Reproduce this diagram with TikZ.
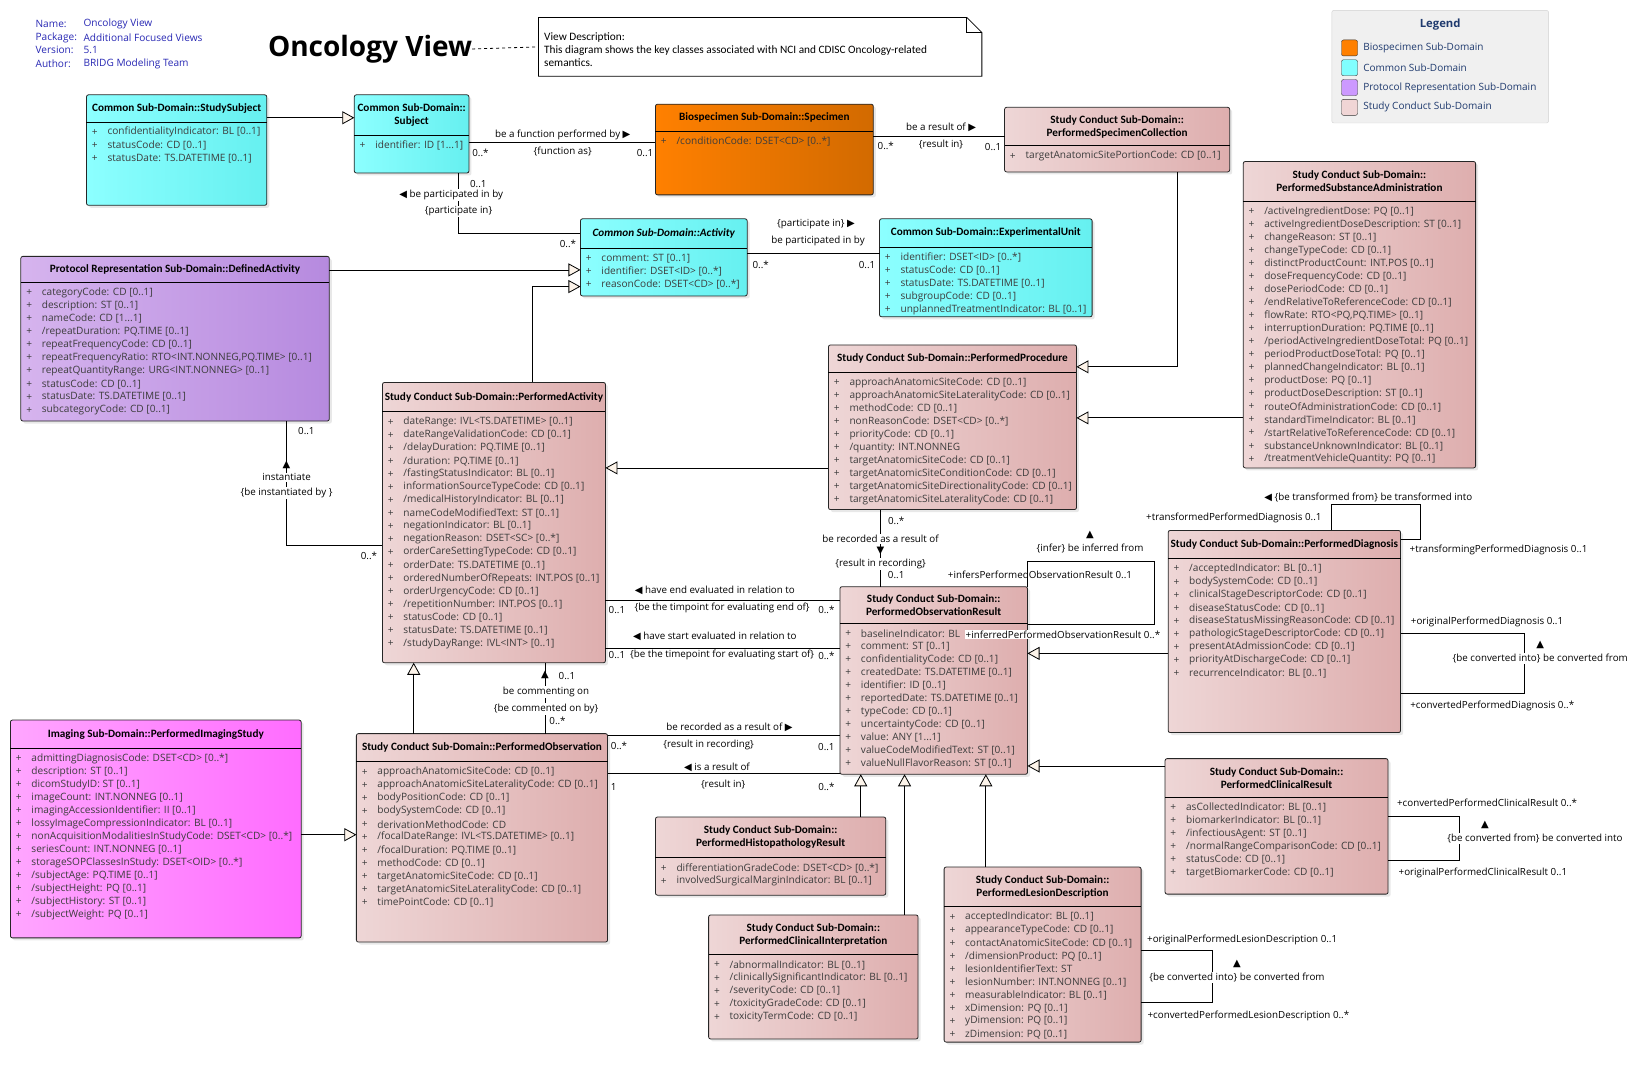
\documentclass[tikz,border=0pt]{standalone}
\usepackage{fontspec}
\setmainfont{Open Sans}
\newfontfamily\hdrfont{Carlito}
\newfontfamily\symfont{DejaVu Sans}
\usetikzlibrary{arrows.meta,shadows}

\definecolor{commonL}{HTML}{8CFFFF}
\definecolor{commonR}{HTML}{66F0F0}
\definecolor{studyL}{HTML}{EED6D6}
\definecolor{studyR}{HTML}{DEAEAE}
\definecolor{protoL}{HTML}{D6B4EE}
\definecolor{protoR}{HTML}{B68ADF}
\definecolor{bioL}{HTML}{FF8000}
\definecolor{bioR}{HTML}{D26A00}
\definecolor{imgL}{HTML}{FFA6FF}
\definecolor{imgR}{HTML}{FF6CFF}
\definecolor{genfill}{HTML}{FDF4EA}
\definecolor{infoblue}{HTML}{2828B4}
\definecolor{legendtxt}{HTML}{1F3A6E}
\definecolor{attrgray}{HTML}{3C3C3C}

\newcommand{\pxs}{1.0421}

\tikzset{
  cls/.style={draw=black!85, line width=0.8pt, rounded corners=2pt, inner sep=0pt, outer sep=0pt,
    drop shadow={opacity=0.18, shadow xshift=2.5pt, shadow yshift=-2.5pt}},
  common/.style={left color=commonL, right color=commonR},
  study/.style={left color=studyL, right color=studyR},
  proto/.style={left color=protoL, right color=protoR},
  bio/.style={left color=bioL, right color=bioR},
  imaging/.style={left color=imgL, right color=imgR},
  clstitle/.style={font=\hdrfont\bfseries\fontsize{11.2}{13}\selectfont, align=center, inner sep=0pt},
  attr/.style={font=\fontsize{10.1}{12}\selectfont, text=attrgray, anchor=west, inner sep=0pt},
  assoc/.style={line width=0.8pt},
  gen/.style={line width=0.8pt, -{Triangle[length=12pt,width=13pt,fill=genfill]}},
  lbl/.style={font=\fontsize{9.8}{12}\selectfont, inner sep=1pt},
  wlbl/.style={lbl, fill=white},
  info/.style={font=\fontsize{10.1}{12}\selectfont, text=infoblue, anchor=west, inner sep=0pt},
}

\newcommand{\tri}[1]{{\symfont\fontsize{10}{10}\selectfont #1}}
\newcommand{\thru}{...}

% class box: name, colour style, left, top, right, bottom, header bottom, title, attributes
\newcommand{\umlclass}[9]{%
  \node[cls,#2,minimum width={(#5-#3)*\pxs},minimum height={(#6-#4)*\pxs}] (#1) at ({(#3+#5)/2},{(#4+#6)/2}) {};
  \draw[line width=0.8pt] (#1.west |- 0,#7) -- (#1.east |- 0,#7);
  \node[clstitle] (#1-title) at ({(#3+#5)/2},{(#4+#7)/2}) {#8};
  \foreach \a [count=\i] in {#9} {
    \node[attr] (#1-p\i) at ({#3+5},{#7+10+12.5*(\i-1)}) {+};
    \node[attr] (#1-a\i) at ({#3+20},{#7+10+12.5*(\i-1)}) {\a};
  }%
}

\begin{document}
\begin{tikzpicture}[x=1.0421pt,y=-1.0421pt]
    \fill[white] (0,0) rectangle (1568,1028.7);
    \useasboundingbox (0,0) rectangle (1568,1028.7);

    % diagram info
    \foreach \k/\v/\y in {Name:/Oncology View/23, Package:/Additional Focused Views/36,
                          Version:/5.1/48, Author:/BRIDG Modeling Team/61}
    {
        \node[info] (info-k\y) at (34,\y) {\k};
        \node[info] (info-v\y) at (80,\y) {\v};
    }

    \node[font=\bfseries\fontsize{28}{32}\selectfont, anchor=west, inner sep=0pt] (title) at (257,47) {Oncology View};

    % note
    \node[minimum width={425*\pxs}, minimum height={56*\pxs}, inner sep=0pt] (note) at (729.5,45) {};
    \draw[line width=0.8pt, fill=white] (note.south west) -- (note.north west) -- ([xshift=-15pt]note.north east)
        -- ([yshift=-15pt]note.north east) -- (note.south east) -- cycle;
    \draw[line width=0.8pt] ([xshift=-15pt]note.north east) |- ([yshift=-15pt]note.north east);
    \node[anchor=north west, align=left, inner sep=0pt, font=\hdrfont\fontsize{11.3}{13}\selectfont] (note-txt) at (522,31)
        {View Description:\\This diagram shows the key classes associated with NCI and CDISC Oncology-related\\semantics.};
    \draw[dashed, line width=0.8pt] (title.east) -- (note.west |- 0,45);

    % legend
    \node[draw=black!18, fill=black!6, rounded corners=2pt, minimum width={208*\pxs}, minimum height={108*\pxs}, inner sep=0pt] (legend) at (1382,64) {};
    \node[font=\bfseries\fontsize{11.3}{13}\selectfont, text=legendtxt] (legend-title) at (1382,24) {Legend};
    \foreach \c/\t/\y in {FF8000/Biospecimen Sub-Domain/46, 80FFFF/Common Sub-Domain/65,
                          CC99FF/Protocol Representation Sub-Domain/84, F0D5D5/Study Conduct Sub-Domain/103}
    {
        \definecolor{swatch}{HTML}{\c}
        \node[draw=black!80, fill=swatch, rounded corners=2pt, minimum size=16, inner sep=0pt] (sw\y) at (1295,\y) {};
        \node[font=\fontsize{10}{12}\selectfont, text=legendtxt, anchor=west, inner sep=0pt] (swt\y) at (1308,\y) {\t};
    }

    % classes
    \umlclass{ss}{common}{83}{91}{256}{197}{117}{Common Sub-Domain::StudySubject}
        {confidentialityIndicator: BL [0..1], statusCode: CD [0..1], statusDate: TS.DATETIME [0..1]}
    \umlclass{subj}{common}{340}{91}{450}{166}{130}{Common Sub-Domain::\\Subject}
        {identifier: ID [1\thru1]}
    \umlclass{spec}{bio}{629}{100}{838}{187}{126}{Biospecimen Sub-Domain::Specimen}
        {/conditionCode: DSET<CD> [0..*]}
    \umlclass{psc}{study}{964}{103}{1180}{165}{140}{Study Conduct Sub-Domain::\\PerformedSpecimenCollection}
        {targetAnatomicSitePortionCode: CD [0..1]}
    \umlclass{act}{common}{557}{210}{717}{284}{238}{\itshape Common Sub-Domain::Activity}
        {comment: ST [0..1], identifier: DSET<ID> [0..*], reasonCode: DSET<CD> [0..*]}
    \umlclass{eu}{common}{844}{210}{1048}{304}{237}{Common Sub-Domain::ExperimentalUnit}
        {identifier: DSET<ID> [0..*], statusCode: CD [0..1], statusDate: TS.DATETIME [0..1],
         subgroupCode: CD [0..1], unplannedTreatmentIndicator: BL [0..1]}
    \umlclass{da}{proto}{20}{246}{316}{404}{271}{Protocol Representation Sub-Domain::DefinedActivity}
        {categoryCode: CD [0..1], description: ST [0..1], nameCode: CD [1\thru1], /repeatDuration: PQ.TIME [0..1],
         repeatFrequencyCode: CD [0..1], {repeatFrequencyRatio: RTO<INT.NONNEG,PQ.TIME> [0..1]},
         repeatQuantityRange: URG<INT.NONNEG> [0..1], statusCode: CD [0..1], statusDate: TS.DATETIME [0..1],
         subcategoryCode: CD [0..1]}
    \umlclass{psa}{study}{1193}{155}{1416}{449}{193}{Study Conduct Sub-Domain::\\PerformedSubstanceAdministration}
        {/activeIngredientDose: PQ [0..1], activeIngredientDoseDescription: ST [0..1], changeReason: ST [0..1],
         changeTypeCode: CD [0..1], distinctProductCount: INT.POS [0..1], doseFrequencyCode: CD [0..1],
         dosePeriodCode: CD [0..1], /endRelativeToReferenceCode: CD [0..1], {flowRate: RTO<PQ,PQ.TIME> [0..1]},
         interruptionDuration: PQ.TIME [0..1], /periodActiveIngredientDoseTotal: PQ [0..1],
         periodProductDoseTotal: PQ [0..1], plannedChangeIndicator: BL [0..1], productDose: PQ [0..1],
         productDoseDescription: ST [0..1], routeOfAdministrationCode: CD [0..1], standardTimeIndicator: BL [0..1],
         /startRelativeToReferenceCode: CD [0..1], substanceUnknownIndicator: BL [0..1],
         /treatmentVehicleQuantity: PQ [0..1]}
    \umlclass{pp}{study}{795}{331}{1033}{489}{357}{Study Conduct Sub-Domain::PerformedProcedure}
        {approachAnatomicSiteCode: CD [0..1], approachAnatomicSiteLateralityCode: CD [0..1], methodCode: CD [0..1],
         nonReasonCode: DSET<CD> [0..*], priorityCode: CD [0..1], /quantity: INT.NONNEG,
         targetAnatomicSiteCode: CD [0..1], targetAnatomicSiteConditionCode: CD [0..1],
         targetAnatomicSiteDirectionalityCode: CD [0..1], targetAnatomicSiteLateralityCode: CD [0..1]}
    \umlclass{pa}{study}{367}{367}{581}{636}{395}{Study Conduct Sub-Domain::PerformedActivity}
        {dateRange: IVL<TS.DATETIME> [0..1], dateRangeValidationCode: CD [0..1], /delayDuration: PQ.TIME [0..1],
         /duration: PQ.TIME [0..1], /fastingStatusIndicator: BL [0..1], informationSourceTypeCode: CD [0..1],
         /medicalHistoryIndicator: BL [0..1], nameCodeModifiedText: ST [0..1], negationIndicator: BL [0..1],
         negationReason: DSET<SC> [0..*], orderCareSettingTypeCode: CD [0..1], orderDate: TS.DATETIME [0..1],
         orderedNumberOfRepeats: INT.POS [0..1], orderUrgencyCode: CD [0..1], /repetitionNumber: INT.POS [0..1],
         statusCode: CD [0..1], statusDate: TS.DATETIME [0..1], /studyDayRange: IVL<INT> [0..1]}
    \umlclass{pd}{study}{1121}{509}{1344}{703}{536}{Study Conduct Sub-Domain::PerformedDiagnosis}
        {/acceptedIndicator: BL [0..1], bodySystemCode: CD [0..1], clinicalStageDescriptorCode: CD [0..1],
         diseaseStatusCode: CD [0..1], diseaseStatusMissingReasonCode: CD [0..1],
         pathologicStageDescriptorCode: CD [0..1], presentAtAdmissionCode: CD [0..1],
         priorityAtDischargeCode: CD [0..1], recurrenceIndicator: BL [0..1]}
    \umlclass{por}{study}{806}{563}{986}{743}{598}{Study Conduct Sub-Domain::\\PerformedObservationResult}
        {baselineIndicator: BL, comment: ST [0..1], confidentialityCode: CD [0..1],
         createdDate: TS.DATETIME [0..1], identifier: ID [0..1], reportedDate: TS.DATETIME [0..1],
         typeCode: CD [0..1], uncertaintyCode: CD [0..1], value: ANY [1\thru1],
         valueCodeModifiedText: ST [0..1], valueNullFlavorReason: ST [0..1]}
    \umlclass{po}{study}{342}{704}{583}{904}{731}{Study Conduct Sub-Domain::PerformedObservation}
        {approachAnatomicSiteCode: CD [0..1], approachAnatomicSiteLateralityCode: CD [0..1],
         bodyPositionCode: CD [0..1], bodySystemCode: CD [0..1], derivationMethodCode: CD,
         /focalDateRange: IVL<TS.DATETIME> [0..1], /focalDuration: PQ.TIME [0..1], methodCode: CD [0..1],
         targetAnatomicSiteCode: CD [0..1], targetAnatomicSiteLateralityCode: CD [0..1], timePointCode: CD [0..1]}
    \umlclass{pis}{imaging}{10}{691}{289}{900}{718}{Imaging Sub-Domain::PerformedImagingStudy}
        {admittingDiagnosisCode: DSET<CD> [0..*], description: ST [0..1], dicomStudyID: ST [0..1],
         imageCount: INT.NONNEG [0..1], imagingAccessionIdentifier: II [0..1],
         lossyImageCompressionIndicator: BL [0..1], nonAcquisitionModalitiesInStudyCode: DSET<CD> [0..*],
         seriesCount: INT.NONNEG [0..1], storageSOPClassesInStudy: DSET<OID> [0..*], /subjectAge: PQ.TIME [0..1],
         /subjectHeight: PQ [0..1], /subjectHistory: ST [0..1], /subjectWeight: PQ [0..1]}
    \umlclass{phr}{study}{629}{784}{850}{859}{823}{Study Conduct Sub-Domain::\\PerformedHistopathologyResult}
        {differentiationGradeCode: DSET<CD> [0..*], involvedSurgicalMarginIndicator: BL [0..1]}
    \umlclass{pci}{study}{680}{878}{881}{997}{916}{Study Conduct Sub-Domain::\\PerformedClinicalInterpretation}
        {/abnormalIndicator: BL [0..1], /clinicallySignificantIndicator: BL [0..1], /severityCode: CD [0..1],
         /toxicityGradeCode: CD [0..1], toxicityTermCode: CD [0..1]}
    \umlclass{pld}{study}{906}{832}{1095}{1000}{870}{Study Conduct Sub-Domain::\\PerformedLesionDescription}
        {acceptedIndicator: BL [0..1], appearanceTypeCode: CD [0..1], contactAnatomicSiteCode: CD [0..1],
         /dimensionProduct: PQ [0..1], lesionIdentifierText: ST, lesionNumber: INT.NONNEG [0..1],
         measurableIndicator: BL [0..1], xDimension: PQ [0..1], yDimension: PQ [0..1], zDimension: PQ [0..1]}
    \umlclass{pcr}{study}{1118}{728}{1332}{858}{765}{Study Conduct Sub-Domain::\\PerformedClinicalResult}
        {asCollectedIndicator: BL [0..1], biomarkerIndicator: BL [0..1], /infectiousAgent: ST [0..1],
         /normalRangeComparisonCode: CD [0..1], statusCode: CD [0..1], targetBiomarkerCode: CD [0..1]}

    % generalizations
    \draw[gen] (ss.east |- 0,113) -- (subj.west |- 0,113);
    \draw[gen] (da.east |- 0,259) -- (act.west |- 0,259);
    \draw[gen] (pa.north -| 511,0) |- (act.west |- 0,275);
    \draw[gen] (pp.west |- 0,449) -- (pa.east |- 0,449);
    \draw[gen] (psc.south -| 1130,0) |- (pp.east |- 0,352);
    \draw[gen] (psa.west |- 0,401) -- (pp.east |- 0,401);
    \draw[gen] (pd.west |- 0,627) -- (por.east |- 0,627);
    \draw[gen] (pcr.west |- 0,735) -- (por.east |- 0,735);
    \draw[gen] (po.north -| 397,0) -- (pa.south -| 397,0);
    \draw[gen] (pis.east |- 0,801) -- (po.west |- 0,801);
    \draw[gen] (phr.north -| 826,0) -- (por.south -| 826,0);
    \draw[gen] (pci.north -| 868,0) -- (por.south -| 868,0);
    \draw[gen] (pld.north -| 946,0) -- (por.south -| 946,0);

    % Subject - Specimen
    \draw[assoc] (subj.east |- 0,137) -- (spec.west |- 0,137);
    \node[lbl] (l-fn1) at (540,129) {be a function performed by \tri{▶}};
    \node[lbl] (l-fn2) at (540,145) {\{function as\}};
    \node[lbl] (l-fn3) at (461,147) {0..*};
    \node[lbl] (l-fn4) at (619,147) {0..1};

    % Specimen - PerformedSpecimenCollection
    \draw[assoc] (spec.east |- 0,131) -- (psc.west |- 0,131);
    \node[lbl] (l-rs1) at (903,122) {be a result of \tri{▶}};
    \node[lbl] (l-rs2) at (903,139) {\{result in\}};
    \node[lbl] (l-rs3) at (850,140) {0..*};
    \node[lbl] (l-rs4) at (953,141) {0..1};

    % Subject - Activity
    \draw[assoc] (subj.south -| 440,0) |- (act.west |- 0,224);
    \node[lbl] (l-pi1) at (459,177) {0..1};
    \node[wlbl] (l-pi2) at (433,187) {\tri{◀} be participated in by};
    \node[wlbl] (l-pi3) at (440,203) {\{participate in\}};
    \node[lbl] (l-pi4) at (545,234) {0..*};

    % Activity - ExperimentalUnit
    \draw[assoc] (act.east |- 0,243) -- (eu.west |- 0,243);
    \node[lbl] (l-eu1) at (783,215) {\{participate in\} \tri{▶}};
    \node[lbl] (l-eu2) at (785,231) {be participated in by};
    \node[lbl] (l-eu3) at (730,254) {0..*};
    \node[lbl] (l-eu4) at (832,254) {0..1};

    % DefinedActivity - PerformedActivity
    \draw[assoc] (da.south -| 275,0) |- (pa.west |- 0,523);
    \node[lbl] (l-in1) at (294,414) {0..1};
    \node[lbl, inner sep=0pt] (l-in2) at (275,446) {\tri{▲}};
    \node[wlbl] (l-in3) at (275,458) {instantiate};
    \node[wlbl] (l-in4) at (275,473) {\{be instantiated by \}};
    \node[lbl] (l-in5) at (354,533) {0..*};

    % PerformedProcedure - PerformedObservationResult
    \draw[assoc] (pp.south -| 845,0) -- (por.north -| 845,0);
    \node[lbl] (l-rr1) at (860,500) {0..*};
    \node[wlbl] (l-rr2) at (845,517) {be recorded as a result of};
    \node[lbl, inner sep=0pt] (l-rr3) at (845,529) {\tri{▼}};
    \node[wlbl] (l-rr4) at (845,541) {\{result in recording\}};
    \node[lbl] (l-rr5) at (860,552) {0..1};

    % PerformedObservationResult self association
    \coordinate (porloop) at (1108,539);
    \draw[assoc] (por.north east) |- (porloop) |- (por.east |- 0,599);
    \node[lbl, inner sep=0pt] (l-if1) at (1046,513) {\tri{▲}};
    \node[lbl] (l-if2) at (1046,526) {\{infer\} be inferred from};
    \node[lbl] (l-if3) at (998,552) {+infersPerformedObservationResult 0..1};
    \node[wlbl] (l-if4) at (1020,609) {+inferredPerformedObservationResult 0..*};

    % PerformedDiagnosis self associations
    \coordinate (pdtrans) at (1363,484);
    \draw[assoc] (pd.north -| 1278,0) |- (pdtrans) |- (pd.east |- 0,518);
    \node[lbl] (l-tr1) at (1313,477) {\tri{◀} \{be transformed from\} be transformed into};
    \node[lbl] (l-tr2) at (1184,497) {+transformedPerformedDiagnosis 0..1};
    \node[lbl] (l-tr3) at (1438,528) {+transformingPerformedDiagnosis 0..1};
    \coordinate (pdconv) at (1463,636);
    \draw[assoc] (pd.east |- 0,608) -| (pdconv) |- (pd.east |- 0,665);
    \node[lbl] (l-cd1) at (1427,597) {+originalPerformedDiagnosis 0..1};
    \node[lbl, inner sep=0pt] (l-cd2) at (1478,619) {\tri{▲}};
    \node[wlbl] (l-cd3) at (1478,632) {\{be converted into\} be converted from};
    \node[lbl] (l-cd4) at (1432,677) {+convertedPerformedDiagnosis 0..*};

    % PerformedActivity - PerformedObservationResult
    \draw[assoc] (pa.east |- 0,576) -- (por.west |- 0,576);
    \node[lbl] (l-ee1) at (686,567) {\tri{◀} have end evaluated in relation to};
    \node[lbl] (l-ee2) at (592,585) {0..1};
    \node[lbl] (l-ee3) at (693,583) {\{be the timpoint for evaluating end of\}};
    \node[lbl] (l-ee4) at (793,585) {0..*};
    \draw[assoc] (pa.east |- 0,622) -- (por.west |- 0,622);
    \node[lbl] (l-se1) at (686,611) {\tri{◀} have start evaluated in relation to};
    \node[lbl] (l-se2) at (592,629) {0..1};
    \node[lbl] (l-se3) at (693,628) {\{be the timepoint for evaluating start of\}};
    \node[lbl] (l-se4) at (793,629) {0..*};

    % PerformedActivity - PerformedObservation
    \draw[assoc] (pa.south -| 523,0) -- (po.north -| 523,0);
    \node[lbl, inner sep=0pt] (l-co1) at (523,648) {\tri{▲}};
    \node[lbl] (l-co2) at (544,649) {0..1};
    \node[wlbl] (l-co3) at (524,664) {be commenting on};
    \node[wlbl] (l-co4) at (524,680) {\{be commented on by\}};
    \node[lbl] (l-co5) at (535,692) {0..*};

    % PerformedObservation - PerformedObservationResult
    \draw[assoc] (po.east |- 0,706) -- (por.west |- 0,706);
    \node[lbl] (l-ri1) at (700,698) {be recorded as a result of \tri{▶}};
    \node[lbl] (l-ri2) at (594,716) {0..*};
    \node[lbl] (l-ri3) at (680,715) {\{result in recording\}};
    \node[lbl] (l-ri4) at (793,717) {0..1};
    \draw[assoc] (po.east |- 0,742) -- (por.west |- 0,742);
    \node[lbl] (l-ir1) at (688,736) {\tri{◀} is a result of};
    \node[lbl] (l-ir2) at (589,755) {1};
    \node[lbl] (l-ir3) at (694,753) {\{result in\}};
    \node[lbl] (l-ir4) at (793,755) {0..*};

    % PerformedLesionDescription self association
    \coordinate (pldconv) at (1163,937);
    \draw[assoc] (pld.east |- 0,912) -| (pldconv) |- (pld.east |- 0,962);
    \node[lbl] (l-ld1) at (1192,902) {+originalPerformedLesionDescription 0..1};
    \node[lbl, inner sep=0pt] (l-ld2) at (1187,925) {\tri{▲}};
    \node[wlbl] (l-ld3) at (1187,938) {\{be converted into\} be converted from};
    \node[lbl] (l-ld4) at (1198,975) {+convertedPerformedLesionDescription 0..*};

    % PerformedClinicalResult self association
    \coordinate (pcrconv) at (1400,805);
    \draw[assoc] (pcr.east |- 0,783) -| (pcrconv) |- (pcr.east |- 0,826);
    \node[lbl] (l-cr1) at (1427,770) {+convertedPerformedClinicalResult 0..*};
    \node[lbl, inner sep=0pt] (l-cr2) at (1425,792) {\tri{▲}};
    \node[wlbl] (l-cr3) at (1473,805) {\{be converted from\} be converted into};
    \node[lbl] (l-cr4) at (1423,838) {+originalPerformedClinicalResult 0..1};
\end{tikzpicture}
\end{document}
